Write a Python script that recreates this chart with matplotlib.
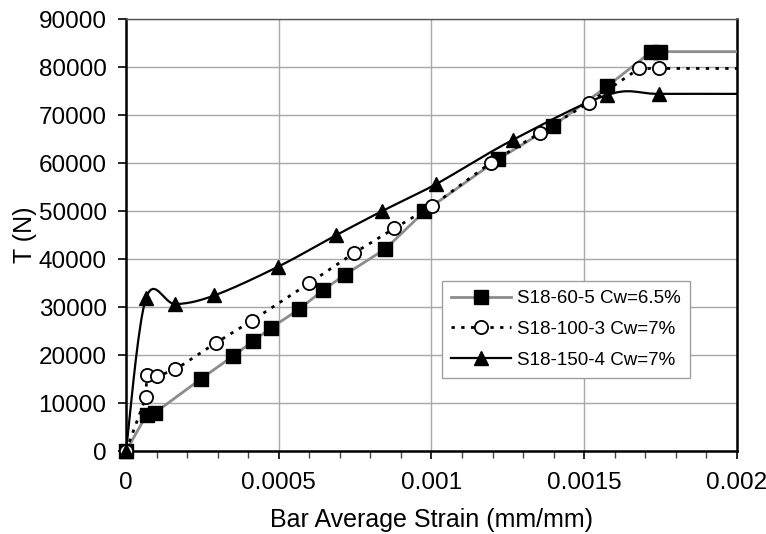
import numpy as np
import matplotlib
matplotlib.use("Agg")
import matplotlib.pyplot as plt
from matplotlib.ticker import MultipleLocator

plt.rcParams['font.family'] = ['Liberation Sans', 'DejaVu Sans']

# ---- data ----
x_end = 0.002

s60_strain = [0, 0.000068, 0.000095, 0.000247, 0.000351, 0.000416, 0.000476, 0.000566,
              0.000645, 0.000716, 0.000849, 0.000977, 0.001219, 0.001397, 0.001576,
              0.001720, 0.001748]
s60_T = [0, 7600, 8000, 15100, 19800, 22900, 25700, 29500, 33500, 36700, 42100,
         49900, 60800, 67700, 76000, 83200, 83200]

s100_strain = [0, 0.0000654, 0.0000676, 0.000103, 0.000162, 0.000296, 0.000411,
               0.000598, 0.000748, 0.000879, 0.001001, 0.001195, 0.001356, 0.001516,
               0.001680, 0.001745]
s100_T = [0, 11300, 15800, 15600, 17000, 22600, 27100, 34900, 41300, 46400, 51000,
          60100, 66300, 72600, 79700, 79700]

s150_strain = [0, 0.0000654, 0.000162, 0.000289, 0.000498, 0.000689, 0.000839,
               0.001015, 0.001266, 0.001576, 0.001745]
s150_T = [0, 31800, 30600, 32400, 38400, 45000, 50000, 55600, 64800, 74200, 74400]

labels = ["S18-60-5 Cw=6.5%", "S18-100-3 Cw=7%", "S18-150-4 Cw=7%"]
x_ticks = [0, 0.0005, 0.001, 0.0015, 0.002]
x_ticklabels = ["0", "0.0005", "0.001", "0.0015", "0.002"]
y_ticks = list(range(0, 90001, 10000))


def smooth(xs, ys, n=20):
    """Excel-style smoothed line (Bezier through the points)."""
    P = np.column_stack([xs, ys]).astype(float)
    out = [P[0]]
    for i in range(len(P) - 1):
        p0 = P[i - 1] if i > 0 else P[i]
        p1, p2 = P[i], P[i + 1]
        p3 = P[i + 2] if i + 2 < len(P) else P[i + 1]
        c1 = p1 + (p2 - p0) / 6.0
        c2 = p2 - (p3 - p1) / 6.0
        t = np.linspace(0, 1, n)[1:, None]
        seg = ((1 - t) ** 3) * p1 + 3 * ((1 - t) ** 2) * t * c1 + 3 * (1 - t) * t ** 2 * c2 + t ** 3 * p2
        out.extend(seg)
    out = np.array(out)
    return out[:, 0], out[:, 1]


fig = plt.figure(figsize=(7.66, 5.34), dpi=100)
ax = fig.add_axes([0.1645, 0.1554, 0.7975, 0.809])

ms = 9.5
gray = '#8c8c8c'
dots = (0, (1.2, 2.3))

# S18-60-5
ax.plot(s60_strain + [x_end], s60_T + [s60_T[-1]], color=gray, lw=2, zorder=3)
ax.plot(s60_strain, s60_T, ls='none', marker='s', ms=ms, color='black', zorder=5,
        clip_on=False)

# S18-100-3
ax.plot(s100_strain + [x_end], s100_T + [s100_T[-1]], color='black', lw=2, ls=dots, zorder=3)
ax.plot(s100_strain, s100_T, ls='none', marker='o', ms=ms, mfc='white', mec='black',
        mew=1.3, zorder=5, clip_on=False)

# S18-150-4
sx, sy = smooth(s150_strain + [x_end], s150_T + [s150_T[-1]])
ax.plot(sx, sy, color='black', lw=1.6, zorder=3)
ax.plot(s150_strain, s150_T, ls='none', marker='^', ms=ms + 1, color='black', zorder=5,
        clip_on=False)

# legend handles
h1, = ax.plot([], [], color=gray, lw=2, marker='s', ms=ms, mfc='black', mec='black')
h2, = ax.plot([], [], color='black', lw=2, ls=dots, marker='o', ms=ms,
              mfc='white', mec='black', mew=1.3)
h3, = ax.plot([], [], color='black', lw=1.6, marker='^', ms=ms + 1, mfc='black', mec='black')
leg = ax.legend([h1, h2, h3], labels, loc='lower left', bbox_to_anchor=(0.517, 0.169),
                fontsize=13.5, frameon=True, fancybox=False, framealpha=1,
                edgecolor='#a0a0a0', handlelength=3.2, handletextpad=0.3,
                borderpad=0.5, labelspacing=0.72, borderaxespad=0)
leg.get_frame().set_linewidth(1.0)
leg.set_zorder(10)

ax.set_xlim(0, 0.002)
ax.set_ylim(0, 90000)
ax.set_xticks(x_ticks)
ax.set_xticklabels(x_ticklabels)
ax.xaxis.set_minor_locator(MultipleLocator(0.0001))
ax.set_yticks(y_ticks)
ax.set_yticklabels([str(v) for v in y_ticks])

ax.grid(True, which='major', color='#a8a8a8', lw=1.0)
ax.set_axisbelow(True)

ax.tick_params(axis='both', which='major', direction='out', length=6, width=1.2,
               labelsize=17.5, colors='black')
ax.tick_params(axis='x', which='major', pad=9)
ax.tick_params(axis='y', which='major', pad=8)
ax.tick_params(axis='x', which='minor', direction='out', length=5, width=1.0, color='#444444')

for side in ['left', 'bottom', 'right']:
    ax.spines[side].set_color('black')
    ax.spines[side].set_linewidth(1.8)
ax.spines['top'].set_color('#555555')
ax.spines['top'].set_linewidth(1.0)

ax.set_xlabel("Bar Average Strain (mm/mm)", fontsize=18, labelpad=10)
ax.set_ylabel("T (N)", fontsize=18, labelpad=1)

fig.savefig("out.png", dpi=100)
